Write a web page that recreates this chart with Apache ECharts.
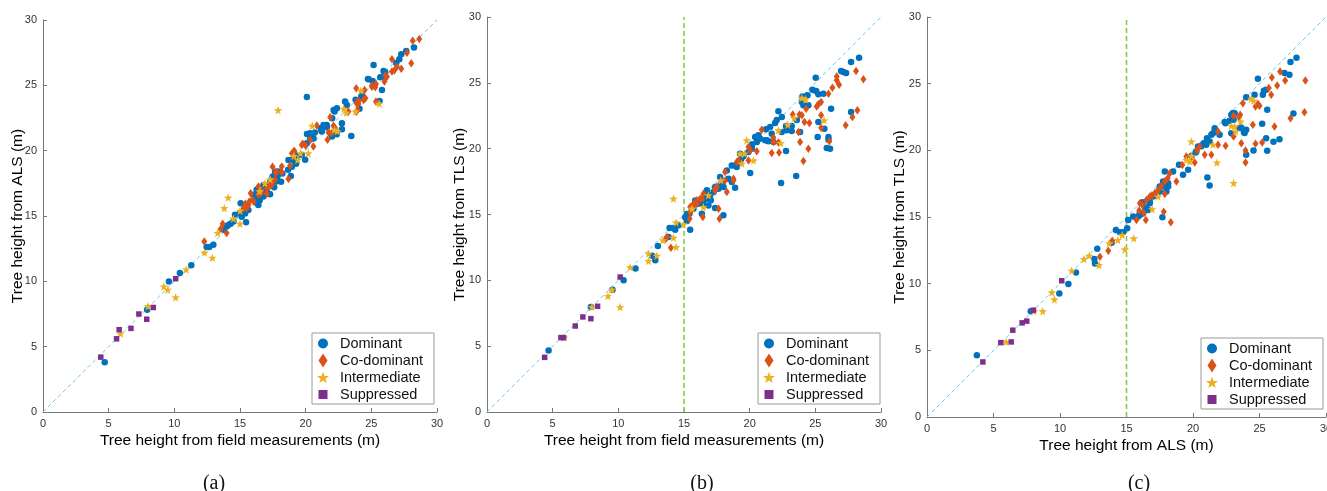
<!DOCTYPE html>
<html>
<head>
<meta charset="utf-8">
<script src="https://cdn.jsdelivr.net/npm/echarts@6/dist/echarts.min.js"></script>
<style>
html,body{margin:0;padding:0;background:#fff;}
#chart{width:1327px;height:491px;}
</style>
</head>
<body>
<div id="chart"></div>
<script>
// ---------------- data ----------------
const classNames = ['Dominant', 'Co-dominant', 'Intermediate', 'Suppressed'];
const panelCaptions = ['(a)', '(b)', '(c)'];
const xTitles = ['Tree height from field measurements (m)', 'Tree height from field measurements (m)', 'Tree height from ALS (m)'];
const yTitles = ['Tree height from ALS (m)', 'Tree height from TLS (m)', 'Tree height from TLS (m)'];
const axisMin = 0, axisMax = 30, axisStep = 5;
const diagonal = [[0, 0], [30, 30]];
const thresholdLine = [[15, 0], [15, 30]];

// (a) field vs ALS
const dominantA = [[4.7,3.8],[7.93,7.83],[9.59,9.99],[10.42,10.63],[11.29,11.24],[12.46,12.62],[12.66,12.62],[12.97,12.8],[13.78,13.94],[13.98,14.2],[14.29,14.4],[14.11,14.31],[14.5,14.57],[14.62,15.09],[15.0,15.22],[15.05,15.98],[15.13,14.95],[15.38,15.2],[15.46,14.53],[15.51,15.85],[15.64,15.46],[16.02,16.62],[16.22,16.03],[16.27,16.36],[16.4,15.85],[16.27,17.0],[16.61,16.87],[16.65,16.75],[16.78,16.49],[16.78,17.38],[16.9,17.0],[17.04,17.26],[17.2,16.7],[17.29,17.59],[17.29,16.66],[17.17,17.38],[17.37,17.63],[17.48,18.0],[17.55,18.05],[17.67,18.39],[17.75,17.64],[17.8,17.76],[17.85,18.02],[17.93,18.4],[18.13,17.63],[18.23,18.26],[18.66,18.53],[18.69,19.28],[18.87,18.07],[18.95,18.77],[18.99,19.3],[19.2,19.67],[19.27,18.99],[19.32,19.55],[19.7,19.68],[19.96,19.3],[20.09,20.57],[20.09,24.1],[20.1,21.28],[20.34,20.88],[20.34,21.33],[20.5,21.08],[20.6,20.94],[20.7,21.39],[21.15,21.72],[21.18,21.59],[21.23,21.46],[21.36,21.97],[21.43,21.9],[21.6,21.97],[21.62,21.8],[22.0,21.08],[22.02,22.48],[22.13,23.12],[22.2,23.0],[22.37,21.26],[22.38,23.24],[22.76,22.1],[22.76,21.64],[23.0,23.76],[23.14,23.5],[23.47,21.13],[23.8,23.9],[24.1,23.2],[24.24,24.14],[24.28,24.2],[24.74,25.49],[24.8,25.47],[25.1,25.34],[25.17,26.56],[25.63,23.81],[25.68,25.62],[25.81,24.65],[25.93,25.67],[25.93,26.1],[26.06,26.0],[26.9,26.7],[27.13,27.0],[27.28,27.38],[27.66,27.63],[28.25,27.9],[16.5,16.2],[17.0,16.9],[17.6,17.2],[17.4,17.8]];
const codominantA = [[12.28,13.05],[13.53,14.0],[13.68,14.4],[13.98,13.69],[15.26,15.6],[15.41,15.93],[15.51,15.6],[15.56,15.73],[15.64,15.85],[15.71,16.11],[15.81,16.75],[15.94,16.24],[16.05,16.1],[16.4,17.26],[16.4,16.62],[16.53,16.7],[16.66,16.87],[17.04,16.7],[17.04,17.12],[17.24,17.26],[17.42,17.38],[17.42,17.64],[17.48,18.77],[17.67,17.77],[17.7,18.33],[17.8,18.39],[18.18,18.79],[18.18,18.35],[18.69,17.84],[18.82,18.86],[18.95,19.79],[19.07,19.93],[19.07,19.63],[19.15,19.97],[19.71,20.43],[19.78,20.52],[20.0,20.37],[20.34,20.82],[20.59,20.32],[20.85,21.92],[21.66,20.83],[21.74,21.39],[21.87,22.56],[21.95,21.33],[22.12,21.9],[22.26,21.71],[23.26,22.99],[23.85,22.97],[23.85,24.78],[23.87,23.62],[23.95,23.12],[23.95,23.76],[24.02,23.58],[24.04,23.8],[24.41,23.88],[24.49,24.65],[24.55,24.01],[25.04,24.96],[25.05,24.9],[25.3,24.85],[25.35,25.11],[25.35,23.76],[26.0,25.29],[26.06,25.75],[26.19,25.66],[26.57,27.0],[26.57,26.05],[26.75,26.13],[26.95,26.43],[27.28,26.26],[27.71,27.5],[28.04,26.69],[28.15,28.42],[28.65,28.55]];
const intermediateA = [[5.9,6.0],[8.0,8.1],[9.2,9.6],[9.5,9.35],[10.1,8.77],[10.9,10.9],[12.3,12.2],[12.9,11.8],[13.3,13.7],[13.8,15.6],[14.1,16.4],[14.5,14.8],[15.0,14.4],[15.0,15.4],[16.5,16.9],[16.9,17.5],[17.3,17.8],[17.9,23.1],[19.1,19.6],[19.4,19.3],[19.6,19.8],[20.2,19.8],[20.5,21.9],[22.2,21.6],[22.4,21.5],[22.9,23.2],[23.1,22.9],[23.8,23.0],[24.2,24.6],[25.6,23.6]];
const suppressedA = [[4.4,4.2],[5.6,5.6],[5.8,6.3],[6.7,6.4],[7.3,7.5],[7.9,7.1],[8.4,8.0],[10.1,10.2]];

// (b) field vs TLS
const dominantB = [[4.69,4.68],[7.91,7.97],[9.56,9.29],[10.4,10.0],[11.31,10.89],[12.58,11.87],[12.81,11.52],[13.01,12.61],[13.82,13.29],[13.9,13.97],[14.15,13.97],[14.33,13.85],[14.58,14.18],[15.09,14.79],[15.17,14.81],[15.22,14.51],[15.22,15.04],[15.42,15.06],[15.47,13.85],[15.6,15.43],[15.72,15.44],[15.85,16.07],[16.1,15.82],[16.23,15.94],[16.36,15.06],[16.49,15.82],[16.61,16.46],[16.74,16.2],[16.74,16.84],[16.86,15.69],[16.99,16.46],[17.04,16.08],[17.25,16.71],[17.37,17.09],[17.37,15.49],[17.63,16.96],[17.75,17.85],[17.75,17.22],[17.89,17.47],[18.0,14.94],[18.01,17.09],[18.26,18.35],[18.39,17.72],[18.64,18.73],[18.64,17.47],[18.89,17.04],[18.9,18.73],[19.02,18.61],[19.15,18.99],[19.27,19.62],[19.35,19.2],[19.53,19.42],[19.53,19.5],[19.91,19.75],[20.04,18.15],[20.16,20.0],[20.16,20.13],[20.19,20.33],[20.42,20.89],[20.55,20.51],[20.67,21.01],[20.8,20.76],[21.18,20.63],[21.25,21.47],[21.3,20.63],[21.43,20.56],[21.56,21.65],[21.68,21.14],[21.81,20.51],[21.94,21.95],[22.06,22.17],[22.19,22.84],[22.39,17.39],[22.44,21.27],[22.45,22.41],[22.77,21.72],[22.77,19.82],[22.8,21.39],[23.2,21.72],[23.2,21.34],[23.54,17.92],[23.59,22.17],[23.84,21.27],[23.97,23.54],[24.02,23.97],[24.09,23.29],[24.4,24.05],[24.47,23.29],[24.78,24.48],[25.03,25.39],[25.06,24.38],[25.18,20.89],[25.23,24.13],[25.23,22.03],[25.62,24.18],[25.69,21.52],[25.87,20.05],[26.0,20.89],[26.0,20.68],[26.12,20.0],[26.2,23.04],[26.96,25.9],[27.14,25.82],[27.34,25.75],[27.72,26.58],[27.72,22.78],[28.33,26.91]];
const codominantB = [[13.62,13.16],[13.7,13.29],[14.0,12.48],[15.42,14.68],[15.47,15.57],[15.47,15.18],[15.72,15.82],[15.72,15.56],[15.98,16.08],[15.98,15.82],[16.23,16.2],[16.36,16.2],[16.43,14.81],[16.48,16.58],[17.37,16.96],[17.37,16.83],[17.5,17.09],[17.63,15.44],[17.7,14.68],[18.13,18.23],[18.13,17.59],[18.26,16.71],[18.77,17.59],[18.77,17.72],[19.02,18.99],[19.15,19.11],[19.91,20.13],[19.91,19.11],[20.04,19.88],[20.54,19.8],[20.92,21.44],[21.68,19.67],[21.81,20.84],[21.81,20.51],[22.19,20.46],[22.24,19.7],[23.28,22.6],[23.71,21.27],[23.79,22.6],[23.84,20.51],[23.97,22.53],[24.09,19.06],[24.17,22.03],[24.3,23.04],[24.47,20.0],[24.55,21.95],[25.11,23.21],[25.23,23.37],[25.44,23.54],[25.44,22.53],[25.44,21.59],[26.0,24.18],[26.07,20.56],[26.3,24.63],[26.63,25.19],[26.63,25.49],[26.81,24.86],[27.31,21.77],[27.82,22.41],[28.1,25.9],[28.2,22.91],[28.66,25.27]];
const intermediateB = [[5.88,5.65],[7.99,7.97],[9.21,8.81],[9.51,9.29],[10.14,7.97],[10.9,11.0],[12.3,11.47],[12.3,12.03],[12.93,11.87],[13.39,13.04],[14.2,13.24],[14.4,12.53],[14.2,16.2],[14.4,14.4],[14.96,14.25],[15.6,15.44],[16.48,15.57],[16.86,16.46],[17.8,17.59],[19.27,19.62],[19.4,18.86],[19.6,19.62],[19.78,20.63],[20.29,19.11],[22.19,21.39],[22.37,20.43],[22.9,21.82],[23.38,22.33],[23.97,23.85],[24.27,23.75],[25.67,22.15]];
const suppressedB = [[4.39,4.15],[5.63,5.65],[5.83,5.65],[6.72,6.53],[7.3,7.22],[7.91,7.09],[8.42,8.03],[10.14,10.25]];

// (c) ALS vs TLS
const dominantC = [[3.75,4.63],[7.8,7.94],[9.95,9.27],[10.63,9.97],[11.2,10.84],[12.58,11.85],[12.63,11.52],[12.8,12.62],[13.88,13.07],[14.2,14.02],[14.5,13.85],[14.75,13.85],[15.05,14.15],[15.13,14.78],[15.5,15.03],[15.88,15.03],[16.0,15.15],[16.0,15.28],[16.2,16.1],[16.25,15.28],[16.38,15.73],[16.5,15.66],[16.63,15.53],[16.75,16.04],[16.75,16.15],[17.0,16.53],[17.13,16.66],[17.25,16.78],[17.5,16.91],[17.5,17.28],[17.7,14.98],[17.75,17.67],[17.88,17.29],[17.88,18.42],[18.0,16.91],[18.0,17.61],[18.13,17.54],[18.13,17.28],[18.5,18.41],[18.95,18.91],[19.25,18.16],[19.63,18.54],[19.88,19.58],[20.2,19.83],[20.25,19.92],[20.38,20.29],[20.63,20.3],[20.8,20.54],[21.0,20.42],[21.05,20.91],[21.08,17.96],[21.25,20.66],[21.25,17.36],[21.38,21.17],[21.5,21.29],[21.63,21.66],[21.75,21.41],[22.0,21.16],[22.38,22.12],[22.45,22.04],[22.75,22.22],[22.88,22.66],[22.88,21.29],[23.0,22.8],[23.05,22.29],[23.13,22.79],[23.5,21.68],[23.63,21.71],[23.83,21.36],[23.88,21.3],[24.0,23.99],[24.0,21.54],[24.0,19.66],[24.55,19.99],[24.63,24.17],[24.88,25.37],[25.2,21.99],[25.25,24.17],[25.33,24.47],[25.5,24.54],[25.5,20.91],[25.58,23.04],[25.58,19.97],[26.05,20.64],[26.5,20.84],[26.88,25.8],[27.25,25.67],[27.33,26.62],[27.55,22.76],[27.78,26.95]];
const codominantC = [[13.0,12.02],[13.63,12.47],[13.93,13.22],[15.75,14.78],[15.95,15.48],[16.0,16.03],[16.45,14.78],[16.5,16.28],[16.75,16.53],[17.13,16.78],[17.38,17.03],[17.8,15.4],[17.88,17.66],[17.88,16.73],[18.25,18.28],[18.33,14.6],[18.75,17.66],[19.5,19.53],[20.13,19.08],[20.5,20.29],[20.88,19.66],[21.38,19.66],[21.88,21.41],[21.88,20.42],[22.45,20.34],[23.05,22.59],[23.05,21.04],[23.45,22.49],[23.55,22.66],[23.63,20.54],[23.75,23.54],[23.95,19.99],[23.95,19.08],[24.5,21.91],[24.7,23.29],[24.7,20.49],[24.88,23.47],[25.0,23.34],[25.2,20.59],[25.7,24.67],[25.88,24.17],[25.93,25.47],[26.13,21.79],[26.33,24.87],[26.55,25.92],[26.93,25.24],[27.33,22.41],[28.38,22.86],[28.45,25.24],[16.2,15.9],[16.9,16.6],[17.6,17.3],[18.1,17.9],[19.2,18.9],[19.9,19.5],[20.3,20.0],[16.3,15.3]];
const intermediateC = [[5.95,5.63],[8.05,7.94],[8.7,7.94],[9.38,9.34],[9.58,8.82],[10.88,10.97],[11.8,11.85],[12.2,12.1],[12.93,11.4],[13.7,13.02],[14.35,13.27],[14.68,13.65],[14.88,12.57],[15.55,13.4],[16.93,15.58],[17.38,16.53],[19.5,19.28],[19.75,19.16],[19.88,20.66],[19.88,19.58],[21.5,20.42],[21.8,19.08],[22.88,21.84],[23.05,17.55],[23.13,21.79],[23.2,21.41],[23.58,22.16],[24.38,23.87],[24.55,23.72]];
const suppressedC = [[4.2,4.13],[5.55,5.58],[6.33,5.63],[6.45,6.51],[7.15,7.06],[7.5,7.19],[8.0,8.01],[10.13,10.22]];

// ---------------- styling ----------------
const colors = ['#0072BD', '#D95319', '#EDB120', '#7E2F8E'];
const starPath = 'M7,1.2L8.53,5.4L12.99,5.55L9.47,8.3L10.7,12.6L7,10.1L3.3,12.6L4.53,8.3L1.01,5.55L5.47,5.4Z';
const diamondPath = 'M7,0L11.5,7L7,14L2.5,7Z';
const markSymbols = ['circle', 'path://' + diamondPath, 'path://' + starPath, 'rect'];
const markSizes = [6.5, [6, 8.5], 8.5, 5.5];
const frame = 'M0,0M14,14';
const legendIcons = [
  'path://' + frame + 'M12,7A5,5,0,1,1,2,7A5,5,0,1,1,12,7Z',
  'path://' + frame + diamondPath,
  'path://' + frame + starPath,
  'path://' + frame + 'M2.5,2.5L11.5,2.5L11.5,11.5L2.5,11.5Z'
];

const panels = [
  { grid: {left: 43, top: 20, width: 394, height: 392}, sets: [dominantA, codominantA, intermediateA, suppressedA], threshold: false, legend: {left: 312, top: 333}, cap: 209, yGap: 17.5 },
  { grid: {left: 487, top: 17, width: 394, height: 395}, sets: [dominantB, codominantB, intermediateB, suppressedB], threshold: true, legend: {left: 758, top: 333}, cap: 697, yGap: 19 },
  { grid: {left: 927, top: 17, width: 399, height: 400}, sets: [dominantC, codominantC, intermediateC, suppressedC], threshold: true, legend: {left: 1201, top: 338}, cap: 1134, yGap: 19 }
];

const fontSans = 'Liberation Sans, Arial, sans-serif';

const grids = [], xAxes = [], yAxes = [], series = [], legends = [], titles = [];
panels.forEach((p, i) => {
  grids.push(Object.assign({containLabel: false, outerBoundsMode: 'none'}, p.grid));
  const common = {
    gridIndex: i, type: 'value', min: axisMin, max: axisMax, interval: axisStep,
    nameLocation: 'middle', nameMoveOverlap: false,
    nameTextStyle: {fontFamily: fontSans, fontSize: 15.5, color: '#000'},
    axisLine: {show: true, lineStyle: {color: '#777', width: 1}},
    axisTick: {show: true, inside: true, length: 4, lineStyle: {color: '#777'}},
    splitLine: {show: false},
    axisLabel: {fontFamily: fontSans, fontSize: 11, color: '#333', hideOverlap: false}
  };
  xAxes.push(Object.assign({}, common, {name: xTitles[i], nameGap: 21, axisLabel: Object.assign({}, common.axisLabel, {margin: 6, showMaxLabel: true, showMinLabel: true})}));
  yAxes.push(Object.assign({}, common, {name: yTitles[i], nameGap: p.yGap, nameRotate: 90, axisLabel: Object.assign({}, common.axisLabel, {margin: 6})}));

  series.push({
    type: 'line', xAxisIndex: i, yAxisIndex: i, data: diagonal, showSymbol: false, silent: true, z: 1,
    lineStyle: {color: '#6cc5ee', width: 1, type: [4, 3]}, animation: false
  });
  if (p.threshold) {
    series.push({
      type: 'line', xAxisIndex: i, yAxisIndex: i, data: thresholdLine, showSymbol: false, silent: true, z: 1,
      lineStyle: {color: '#8cc84b', width: 1.6, type: [5, 3]}, animation: false
    });
  }
  p.sets.forEach((d, k) => {
    series.push({
      name: classNames[k], type: 'scatter', xAxisIndex: i, yAxisIndex: i, data: d,
      symbol: markSymbols[k], symbolSize: markSizes[k],
      itemStyle: {color: colors[k], opacity: 1}, z: 2 + k, animation: false
    });
  });
  legends.push({
    left: p.legend.left, top: p.legend.top, orient: 'vertical',
    selectedMode: false,
    data: classNames.map((n, k) => ({name: n, icon: legendIcons[k]})),
    itemWidth: 24, itemHeight: 14, itemGap: 2,
    padding: [3, 11, 2, 4],
    borderColor: '#9a9a9a', borderWidth: 1, backgroundColor: '#fff',
    textStyle: {fontFamily: fontSans, fontSize: 14.5, color: '#111', lineHeight: 14}
  });
  titles.push({
    text: panelCaptions[i], left: p.cap, top: 469, textAlign: 'center',
    textStyle: {fontFamily: 'Liberation Serif, serif', fontSize: 20, fontWeight: 'normal', color: '#111'}
  });
});

const chart = echarts.init(document.getElementById('chart'), null, {renderer: 'canvas'});
chart.setOption({
  animation: false,
  backgroundColor: '#fff',
  title: titles,
  grid: grids,
  xAxis: xAxes,
  yAxis: yAxes,
  legend: legends,
  series: series
});
</script>
</body>
</html>
